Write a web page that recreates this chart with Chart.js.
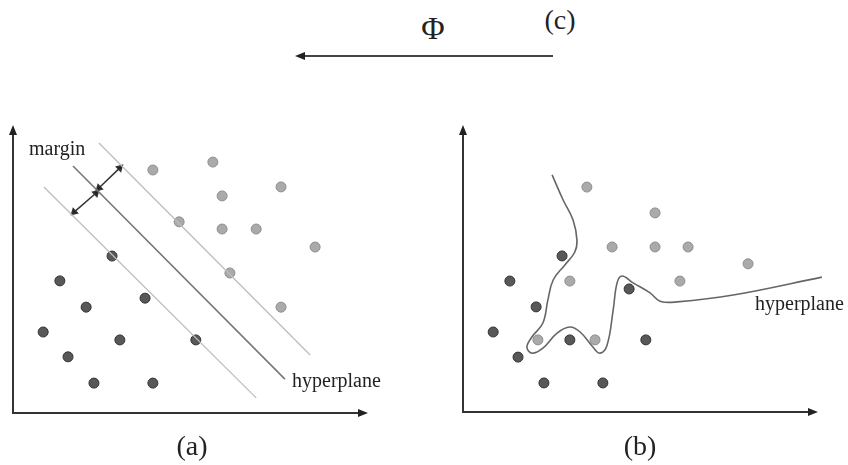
<!DOCTYPE html>
<html>
<head>
<meta charset="utf-8">
<script src="https://cdn.jsdelivr.net/npm/chart.js@4.4.1/dist/chart.umd.min.js"></script>
<style>
  body { margin: 0; background: #fff; }
  #wrap { position: relative; width: 848px; height: 465px; overflow: hidden; }
  canvas { position: absolute; }
  .lbl { position: absolute; font-family: "Liberation Serif", "DejaVu Serif", serif; color: #222;
         line-height: 1; white-space: nowrap; transform: translate(-50%, -50%); }
  .small { font-size: 20px; transform: translate(0, -50%); }
  .big { font-size: 28px; }
</style>
</head>
<body>
<div id="wrap">
  <canvas id="chartA"></canvas>
  <canvas id="chartB"></canvas>
  <svg width="848" height="80" style="position:absolute;left:0;top:0">
    <line x1="553" y1="56" x2="304" y2="56" stroke="#444" stroke-width="2"/>
    <polygon points="295,56 305,52 305,60" fill="#222"/>
  </svg>
  <div class="lbl" style="left:433px;top:28px;font-size:32px">Φ</div>
  <div class="lbl big" style="left:560px;top:20px">(c)</div>
  <div class="lbl big" style="left:192px;top:446px">(a)</div>
  <div class="lbl big" style="left:640px;top:446px">(b)</div>
  <div class="lbl small" style="left:29px;top:148px">margin</div>
  <div class="lbl small" style="left:292px;top:380px">hyperplane</div>
  <div class="lbl small" style="left:755px;top:303px">hyperplane</div>
</div>
<script>
// panel (a): linearly separable classes
const lightA = [[3.94, 6.75], [5.63, 6.97], [5.89, 6.03], [7.55, 6.28], [4.68, 5.31],
  [5.89, 5.11], [6.85, 5.11], [8.51, 4.61], [6.11, 3.89], [7.55, 2.94]];
const darkA = [[2.79, 4.36], [1.32, 3.67], [2.06, 2.94], [3.72, 3.19], [0.85, 2.25],
  [3.01, 2.03], [5.15, 2.03], [1.55, 1.56], [2.28, 0.83], [3.94, 0.83]];
const upperMargin = [[2.42, 7.5], [8.37, 1.61]];
const hyperplaneA = [[1.69, 6.86], [7.66, 0.94]];
const lowerMargin = [[0.87, 6.28], [6.85, 0.42]];
const marginArrow1 = [[3.01, 6.81], [2.42, 6.25]];
const marginArrow2 = [[2.34, 6.11], [1.72, 5.58]];

// panel (b): non-linear boundary
const lightB = [[3.49, 6.27], [5.41, 5.55], [4.20, 4.60], [5.41, 4.60], [6.34, 4.60],
  [8.03, 4.13], [3.01, 3.65], [6.11, 3.65], [2.11, 2.01], [3.72, 2.01]];
const darkB = [[2.79, 4.35], [1.32, 3.65], [4.68, 3.43], [2.06, 2.93], [0.85, 2.23],
  [3.01, 2.01], [5.15, 2.01], [1.55, 1.53], [2.28, 0.81], [3.94, 0.81]];
const hyperplaneB = [[2.51, 6.61], [2.82, 5.91], [3.10, 5.35], [3.21, 4.79], [3.15, 4.46],
  [2.87, 4.10], [2.54, 3.68], [2.39, 3.12], [2.25, 2.48], [1.94, 2.09], [1.80, 1.81],
  [1.94, 1.64], [2.25, 1.78], [2.65, 2.20], [3.01, 2.37], [3.30, 2.23], [3.66, 1.81],
  [3.86, 1.64], [4.06, 1.87], [4.23, 2.84], [4.34, 3.60], [4.48, 3.79], [4.79, 3.60],
  [5.27, 3.32], [5.55, 3.09], [6.03, 3.07], [7.61, 3.26], [10.11, 3.76]];

const toXY = arr => arr.map(p => ({ x: p[0], y: p[1] }));

function dots(arr, fill, border) {
  return {
    type: 'scatter', data: toXY(arr), backgroundColor: fill, borderColor: border,
    borderWidth: 1, pointRadius: 5, clip: false
  };
}

function line(arr, color, width, tension) {
  return {
    type: 'line', data: toXY(arr), borderColor: color, borderWidth: width,
    pointRadius: 0, fill: false, tension: tension || 0, clip: false
  };
}

function doubleArrow(arr) {
  return {
    type: 'line', data: toXY(arr), borderColor: '#333', backgroundColor: '#222',
    borderWidth: 1.5, pointStyle: 'triangle', pointRadius: 3.5,
    pointRotation: [46, 226], clip: false
  };
}

// draws the two axis lines with arrow heads at the chart area edges
const axisArrows = {
  id: 'axisArrows',
  afterDraw(chart) {
    const { ctx, chartArea: a } = chart;
    ctx.save();
    ctx.strokeStyle = '#333';
    ctx.fillStyle = '#222';
    ctx.lineWidth = 2;
    ctx.beginPath();
    ctx.moveTo(a.left, a.top + 6);
    ctx.lineTo(a.left, a.bottom);
    ctx.lineTo(a.right - 6, a.bottom);
    ctx.stroke();
    ctx.beginPath();
    ctx.moveTo(a.left, a.top);
    ctx.lineTo(a.left - 4, a.top + 10);
    ctx.lineTo(a.left + 4, a.top + 10);
    ctx.fill();
    ctx.beginPath();
    ctx.moveTo(a.right, a.bottom);
    ctx.lineTo(a.right - 10, a.bottom - 4);
    ctx.lineTo(a.right - 10, a.bottom + 4);
    ctx.fill();
    ctx.restore();
  }
};

function makeChart(id, left, width, padding, datasets) {
  const canvas = document.getElementById(id);
  canvas.style.left = left + 'px';
  canvas.style.top = '100px';
  canvas.style.width = width + 'px';
  canvas.style.height = '340px';
  return new Chart(canvas, {
    data: { datasets },
    options: {
      responsive: false,
      animation: false,
      layout: { padding, autoPadding: false },
      plugins: { legend: { display: false }, tooltip: { enabled: false } },
      scales: {
        x: { type: 'linear', min: 0, max: 10, display: false },
        y: { type: 'linear', min: 0, max: 8, display: false }
      }
    },
    plugins: [axisArrows]
  });
}

document.getElementById('chartA').width = 420;
document.getElementById('chartA').height = 340;
document.getElementById('chartB').width = 418;
document.getElementById('chartB').height = 340;

makeChart('chartA', 0, 420, { left: 13, right: 52, top: 25, bottom: 27 }, [
  line(upperMargin, '#bdbdbd', 1.3),
  line(lowerMargin, '#bdbdbd', 1.3),
  line(hyperplaneA, '#777', 1.6),
  doubleArrow(marginArrow1),
  doubleArrow(marginArrow2),
  dots(lightA, '#aaaaaa', '#8e8e8e'),
  dots(darkA, '#585858', '#333')
]);

makeChart('chartB', 430, 418, { left: 33, right: 30, top: 25, bottom: 28 }, [
  line(hyperplaneB, '#666', 1.6, 0.4),
  dots(lightB, '#aaaaaa', '#8e8e8e'),
  dots(darkB, '#585858', '#333')
]);
</script>
</body>
</html>
